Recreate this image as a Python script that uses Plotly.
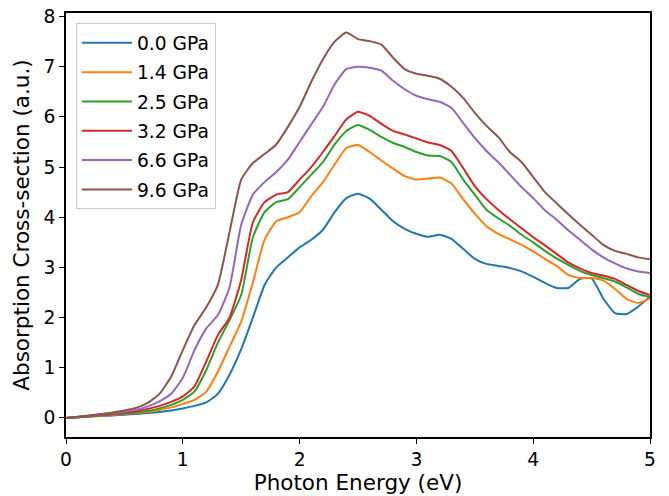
import plotly.graph_objects as go

energy = [round(0.1 * i, 1) for i in range(51)]

labels = ["0.0 GPa", "1.4 GPa", "2.5 GPa", "3.2 GPa", "6.6 GPa", "9.6 GPa"]
colors = ["#1f77b4", "#ff7f0e", "#2ca02c", "#d62728", "#9467bd", "#8c564b"]

p00 = [0, 0.01, 0.025, 0.04, 0.05, 0.065, 0.08, 0.10, 0.12, 0.15,
       0.19, 0.24, 0.31, 0.48, 0.86, 1.37, 2.0, 2.65, 3.0, 3.2,
       3.4, 3.55, 3.75, 4.1, 4.38, 4.47, 4.37, 4.15, 3.92, 3.77,
       3.67, 3.61, 3.65, 3.57, 3.37, 3.17, 3.07, 3.03, 2.99, 2.92,
       2.81, 2.69, 2.59, 2.59, 2.77, 2.78, 2.38, 2.09, 2.07, 2.22, 2.42]
p14 = [0, 0.015, 0.03, 0.045, 0.06, 0.08, 0.10, 0.12, 0.16, 0.21,
       0.28, 0.36, 0.52, 0.92, 1.42, 1.92, 2.7, 3.55, 3.92, 4.0,
       4.1, 4.42, 4.7, 5.05, 5.38, 5.44, 5.3, 5.13, 4.97, 4.82,
       4.75, 4.77, 4.79, 4.67, 4.36, 4.07, 3.82, 3.67, 3.56, 3.45,
       3.32, 3.17, 3.03, 2.85, 2.79, 2.79, 2.74, 2.57, 2.37, 2.29, 2.38]
p25 = [0, 0.015, 0.035, 0.05, 0.07, 0.09, 0.11, 0.14, 0.19, 0.26,
       0.36, 0.53, 0.95, 1.5, 1.95, 2.45, 3.6, 4.1, 4.3, 4.36,
       4.6, 4.85, 5.1, 5.45, 5.72, 5.84, 5.74, 5.6, 5.48, 5.4,
       5.3, 5.23, 5.22, 5.1, 4.75, 4.45, 4.15, 3.98, 3.83, 3.65,
       3.5, 3.33, 3.18, 3.05, 2.93, 2.85, 2.79, 2.72, 2.6, 2.47, 2.41]
p32 = [0, 0.02, 0.04, 0.06, 0.08, 0.10, 0.13, 0.18, 0.24, 0.32,
       0.43, 0.63, 1.12, 1.65, 2.0, 2.75, 3.9, 4.3, 4.45, 4.5,
       4.75, 5.0, 5.3, 5.62, 5.95, 6.1, 6.02, 5.86, 5.72, 5.65,
       5.57, 5.49, 5.44, 5.32, 4.98, 4.62, 4.36, 4.15, 3.96, 3.78,
       3.6, 3.44, 3.27, 3.1, 2.98, 2.89, 2.84, 2.77, 2.65, 2.53, 2.45]
p66 = [0, 0.02, 0.045, 0.07, 0.095, 0.12, 0.16, 0.23, 0.33, 0.48,
       0.8, 1.35, 1.78, 2.05, 2.6, 3.85, 4.45, 4.7, 4.9, 5.15,
       5.5, 5.85, 6.2, 6.65, 6.95, 7.0, 6.98, 6.92, 6.72, 6.55,
       6.42, 6.35, 6.3, 6.18, 5.88, 5.58, 5.32, 5.1, 4.85, 4.6,
       4.38, 4.14, 3.95, 3.74, 3.55, 3.36, 3.2, 3.08, 2.98, 2.92, 2.89]
p96 = [0, 0.025, 0.05, 0.08, 0.11, 0.15, 0.2, 0.3, 0.48, 0.82,
       1.35, 1.85, 2.2, 2.65, 3.7, 4.75, 5.08, 5.26, 5.45, 5.8,
       6.2, 6.7, 7.15, 7.5, 7.68, 7.55, 7.51, 7.44, 7.18, 6.95,
       6.86, 6.82, 6.76, 6.6, 6.38, 6.08, 5.82, 5.6, 5.3, 5.1,
       4.8, 4.5, 4.28, 4.06, 3.85, 3.65, 3.45, 3.33, 3.27, 3.2, 3.16]

series = [p00, p14, p25, p32, p66, p96]

x_ticks = [0, 1, 2, 3, 4, 5]
y_ticks = [0, 1, 2, 3, 4, 5, 6, 7, 8]

FONT = "DejaVu Sans"

fig = go.Figure()
for i, (lab, col, ys) in enumerate(zip(labels, colors, series)):
    fig.add_trace(go.Scatter(
        x=energy, y=ys, mode="lines", name=lab,
        line=dict(color=col, width=2, shape="spline", smoothing=0.5),
        legendgroup=f"g{i}",
    ))

axis_common = dict(
    showline=True, linecolor="black", linewidth=1.6, mirror=True,
    ticks="outside", ticklen=5, tickwidth=1.3, tickcolor="black",
    showgrid=False, zeroline=False, automargin=False,
    tickfont=dict(family=FONT, size=18.7, color="black"),
)

fig.update_layout(
    width=669, height=496,
    margin=dict(l=66, r=19, t=13, b=59),
    paper_bgcolor="white", plot_bgcolor="white",
    font=dict(family=FONT, color="black"),
    xaxis=dict(range=[0, 5], tickvals=x_ticks,
               title=dict(text="Photon Energy (eV)", font=dict(family=FONT, size=21.5), standoff=6),
               **axis_common),
    yaxis=dict(range=[-0.38, 8.07], tickvals=y_ticks,
               title=dict(text="Absorption Cross-section (a.u.)", font=dict(family=FONT, size=21.5), standoff=8),
               **axis_common),
    legend=dict(
        x=0.017, y=0.976, xanchor="left", yanchor="top",
        bgcolor="rgba(255,255,255,0.8)", bordercolor="#cccccc", borderwidth=1,
        font=dict(family=FONT, size=18.7, color="black"),
        tracegroupgap=2, itemwidth=50,
    ),
    showlegend=True,
)

fig.write_html(
    "out.html",
    config={"displayModeBar": False},
    post_script="document.body.style.margin='0';document.body.style.overflow='hidden';",
)
